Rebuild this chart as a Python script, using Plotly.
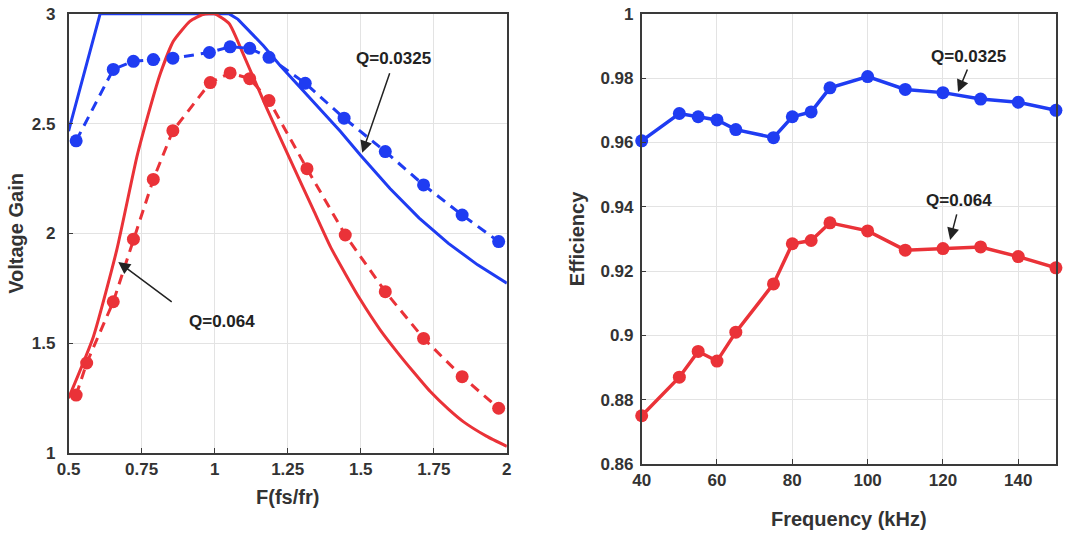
import plotly.graph_objects as go

# ---------------- Data: left panel (Voltage Gain vs F) ----------------
blue_solid_x = [0.5, 0.608, 0.8, 1.0, 1.05, 1.08, 1.11, 1.167, 1.224, 1.281, 1.35, 1.43, 1.5, 1.567, 1.6, 1.7, 1.8, 1.9, 2.0]
blue_solid_y = [2.466, 3.0, 3.0, 3.0, 3.0, 2.975, 2.935, 2.855, 2.765, 2.682, 2.578, 2.465, 2.355, 2.255, 2.205, 2.07, 1.955, 1.857, 1.773]

red_solid_x = [0.5, 0.585, 0.665, 0.734, 0.779, 0.813, 0.859, 0.916, 0.96, 1.0, 1.05, 1.1, 1.18, 1.259, 1.338, 1.396, 1.45, 1.498, 1.567, 1.624, 1.68, 1.738, 1.8, 1.852, 1.93, 2.0]
red_solid_y = [1.25, 1.53, 1.925, 2.35, 2.572, 2.724, 2.876, 2.967, 2.997, 3.0, 2.955, 2.81, 2.565, 2.335, 2.107, 1.94, 1.81, 1.70, 1.56, 1.461, 1.37, 1.28, 1.20, 1.142, 1.077, 1.03]

blue_meas_x = [0.526, 0.653, 0.722, 0.79, 0.857, 0.982, 1.053, 1.12, 1.186, 1.31, 1.443, 1.584, 1.715, 1.847, 1.972]
blue_meas_y = [2.422, 2.747, 2.784, 2.792, 2.798, 2.824, 2.85, 2.843, 2.802, 2.684, 2.525, 2.373, 2.221, 2.084, 1.963]

red_meas_x = [0.526, 0.562, 0.653, 0.722, 0.79, 0.857, 0.985, 1.053, 1.12, 1.186, 1.316, 1.447, 1.584, 1.715, 1.847, 1.972]
red_meas_y = [1.264, 1.41, 1.689, 1.974, 2.246, 2.468, 2.687, 2.731, 2.705, 2.605, 2.295, 1.993, 1.735, 1.522, 1.348, 1.204]

left_xticks = [0.5, 0.75, 1, 1.25, 1.5, 1.75, 2]
left_xticklabels = ["0.5", "0.75", "1", "1.25", "1.5", "1.75", "2"]
left_yticks = [1, 1.5, 2, 2.5, 3]
left_yticklabels = ["1", "1.5", "2", "2.5", "3"]

# ---------------- Data: right panel (Efficiency vs Frequency) ----------------
freq_khz = [40, 50, 55, 60, 65, 75, 80, 85, 90, 100, 110, 120, 130, 140, 150]
eff_q0325 = [0.9605, 0.969, 0.968, 0.967, 0.964, 0.9615, 0.968, 0.9695, 0.977, 0.9805, 0.9765, 0.9755, 0.9735, 0.9725, 0.970]
eff_q064 = [0.875, 0.887, 0.895, 0.892, 0.901, 0.916, 0.9285, 0.9295, 0.935, 0.9325, 0.9265, 0.927, 0.9275, 0.9245, 0.921]

right_xticks = [40, 60, 80, 100, 120, 140]
right_xticklabels = ["40", "60", "80", "100", "120", "140"]
right_yticks = [0.86, 0.88, 0.90, 0.92, 0.94, 0.96, 0.98, 1.0]
right_yticklabels = ["0.86", "0.88", "0.9", "0.92", "0.94", "0.96", "0.98", "1"]

BLUE = "#1f3cf2"
RED = "#ea3238"
FONT = "Liberation Sans"
TXT = "#333333"

fig = go.Figure()

# left panel traces
fig.add_trace(go.Scatter(x=blue_solid_x, y=blue_solid_y, mode="lines",
                         line=dict(color=BLUE, width=3), xaxis="x", yaxis="y", showlegend=False))
fig.add_trace(go.Scatter(x=red_solid_x, y=red_solid_y, mode="lines",
                         line=dict(color=RED, width=3, shape="spline", smoothing=0.5),
                         xaxis="x", yaxis="y", showlegend=False))
fig.add_trace(go.Scatter(x=blue_meas_x, y=blue_meas_y, mode="lines+markers",
                         line=dict(color=BLUE, width=3, dash="10px,7px"),
                         marker=dict(color=BLUE, size=13), xaxis="x", yaxis="y", showlegend=False))
fig.add_trace(go.Scatter(x=red_meas_x, y=red_meas_y, mode="lines+markers",
                         line=dict(color=RED, width=3, dash="10px,7px"),
                         marker=dict(color=RED, size=13), xaxis="x", yaxis="y", showlegend=False))

# right panel traces
fig.add_trace(go.Scatter(x=freq_khz, y=eff_q0325, mode="lines+markers",
                         line=dict(color=BLUE, width=3.5), marker=dict(color=BLUE, size=13),
                         xaxis="x2", yaxis="y2", showlegend=False, cliponaxis=False))
fig.add_trace(go.Scatter(x=freq_khz, y=eff_q064, mode="lines+markers",
                         line=dict(color=RED, width=3.5), marker=dict(color=RED, size=13),
                         xaxis="x2", yaxis="y2", showlegend=False, cliponaxis=False))

axis_common = dict(showline=True, mirror=True, linecolor="#3a3a3a", linewidth=1.5,
                   ticks="inside", ticklen=5, tickcolor="#3a3a3a", automargin=False,
                   ticklabeloverflow="allow",
                   showgrid=True, gridcolor="#e3e3e3", gridwidth=1, zeroline=False,
                   tickfont=dict(family=FONT, size=17, color=TXT, weight="bold"))
title_font = dict(family=FONT, size=20, color=TXT, weight="bold")

fig.update_layout(
    width=1083, height=533,
    margin=dict(l=0, r=0, t=0, b=0),
    paper_bgcolor="white", plot_bgcolor="white",
    xaxis=dict(domain=[0.0633, 0.468], range=[0.5, 2], tickvals=left_xticks, ticktext=left_xticklabels,
               title=dict(text="F(fs/fr)", font=title_font, standoff=12),
               ticklabelstandoff=0, anchor="y", **axis_common),
    yaxis=dict(domain=[0.150, 0.974], range=[1, 3], tickvals=left_yticks, ticktext=left_yticklabels,
               title=dict(text="Voltage Gain", font=title_font, standoff=3),
               ticklabelstandoff=8, anchor="x", **axis_common),
    xaxis2=dict(domain=[0.5925, 0.975], range=[40, 150], tickvals=right_xticks, ticktext=right_xticklabels,
                title=dict(text="Frequency (kHz)", font=title_font, standoff=23),
                ticklabelstandoff=0, anchor="y2", **axis_common),
    yaxis2=dict(domain=[0.1295, 0.974], range=[0.86, 1.0], tickvals=right_yticks, ticktext=right_yticklabels,
                title=dict(text="Efficiency", font=title_font, standoff=10),
                ticklabelstandoff=3, anchor="x2", **axis_common),
)

ann_font = dict(family=FONT, size=17, color="#222222", weight="bold")
annotations = [
    # left panel
    dict(x=1.611, y=2.795, xref="x", yref="y", text="Q=0.0325", showarrow=False, font=ann_font),
    dict(x=1.505, y=2.367, xref="x", yref="y", text="", showarrow=True, ax=28, ay=-81,
         arrowhead=2, arrowsize=1.6, arrowwidth=1.5, arrowcolor="#222222"),
    dict(x=1.026, y=1.597, xref="x", yref="y", text="Q=0.064", showarrow=False, font=ann_font),
    dict(x=0.67, y=1.87, xref="x", yref="y", text="", showarrow=True, ax=55, ay=41,
         arrowhead=2, arrowsize=1.6, arrowwidth=1.5, arrowcolor="#222222"),
    # right panel
    dict(x=126.9, y=0.9866, xref="x2", yref="y2", text="Q=0.0325", showarrow=False, font=ann_font),
    dict(x=124.0, y=0.9757, xref="x2", yref="y2", text="", showarrow=True, ax=10, ay=-24,
         arrowhead=2, arrowsize=1.6, arrowwidth=1.5, arrowcolor="#222222"),
    dict(x=124.3, y=0.9421, xref="x2", yref="y2", text="Q=0.064", showarrow=False, font=ann_font),
    dict(x=121.9, y=0.9297, xref="x2", yref="y2", text="", showarrow=True, ax=7, ay=-27,
         arrowhead=2, arrowsize=1.6, arrowwidth=1.5, arrowcolor="#222222"),
]
fig.update_layout(annotations=annotations)

# remove the default page margin so the figure fills the window exactly; hide the mode bar
fig.write_html("out.html", config={"displayModeBar": False},
               post_script="document.body.style.margin='0';")
